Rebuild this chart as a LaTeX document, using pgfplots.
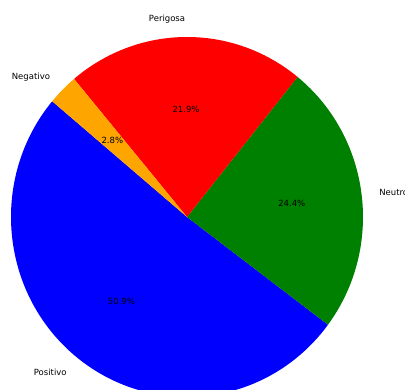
\documentclass[border=0pt]{standalone}
\usepackage{pgfplots}
\usepackage{pgfplotstable}
\pgfplotsset{compat=1.18}
\usepackage{fontspec}
\setmainfont{DejaVu Sans}
\definecolor{mplblue}{RGB}{0,0,255}
\definecolor{mplgreen}{RGB}{0,128,0}
\definecolor{mplred}{RGB}{255,0,0}
\definecolor{mplorange}{RGB}{255,165,0}
\pgfplotstableread{
label value color
Positivo 50.9 mplblue
Neutro 24.4 mplgreen
Perigosa 21.9 mplred
Negativo 2.8 mplorange
}\piedata
\begin{document}
\begin{tikzpicture}
\useasboundingbox (0,0) rectangle (405pt,389pt);
\clip (0,0) rectangle (405pt,389pt);
\begin{axis}[at={(0,0)}, anchor=south west, x=176pt, y=180pt,
  xmin=-1.0625, xmax=1.2386, ymin=-0.9556, ymax=1.2056,
  hide axis, clip=false]
\pgfmathsetmacro\cum{140}
\pgfplotsforeachungrouped \i in {0,...,3}{%
  \pgfplotstablegetelem{\i}{value}\of\piedata \let\v\pgfplotsretval
  \pgfplotstablegetelem{\i}{color}\of\piedata \let\c\pgfplotsretval
  \pgfplotstablegetelem{\i}{label}\of\piedata \let\l\pgfplotsretval
  \pgfmathsetmacro\a{\cum}%
  \pgfmathsetmacro\b{\cum+3.6*\v}%
  \pgfmathsetmacro\m{(\a+\b)/2}%
  \pgfmathsetmacro\cm{cos(\m)}%
  \ifdim\cm pt>0pt \def\anc{west}\else\def\anc{east}\fi
  \edef\temp{%
    \noexpand\fill[\c] (axis cs:0,0) -- (axis cs:{cos(\a)},{sin(\a)}) arc[start angle=\a, end angle=\b, x radius=176pt, y radius=180pt] -- cycle;
    \noexpand\node[anchor=center, inner sep=0pt, font=\noexpand\fontsize{8.5}{10}\noexpand\selectfont] at (axis cs:{0.6*cos(\m)},{0.6*sin(\m)}) {\v\noexpand\%};
    \noexpand\node[anchor=\anc, inner sep=0pt, font=\noexpand\fontsize{8.5}{10}\noexpand\selectfont] at (axis cs:{1.1*cos(\m)},{1.1*sin(\m)}) {\l};
  }%
  \temp
  \global\let\cum\b
}
\end{axis}
\end{tikzpicture}
\end{document}
